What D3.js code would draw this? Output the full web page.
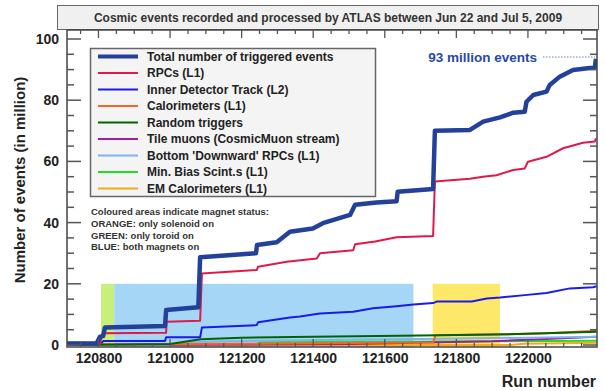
<!DOCTYPE html>
<html><head><meta charset="utf-8">
<script src="https://cdn.jsdelivr.net/npm/d3@7"></script>
<style>body{margin:0;background:#fff}svg{display:block;font-family:"Liberation Sans",Arial,sans-serif}</style>
</head><body><svg id="c" width="605" height="391"></svg>
<script>
// ---- data (run number, million events) ----
const seriesNames = ["Total number of triggered events","RPCs (L1)","Inner Detector Track (L2)","Calorimeters (L1)","Random triggers","Tile muons (CosmicMuon stream)","Bottom 'Downward' RPCs (L1)","Min. Bias Scint.s (L1)","EM Calorimeters (L1)"];
const seriesColors = ["#23419a","#e0194a","#1a1aeb","#f26522","#006400","#9b1fa0","#7fb2f0","#22dd22","#f7a81b"];
const total = [[120712,0.5],[120795,0.6],[120804,2.7],[120813,2.9],[120818,5.7],[120986,6.2],[120989,11.4],[121079,12.3],[121084,28.7],[121240,30.0],[121243,32.7],[121298,33.6],[121335,37.0],[121399,38.1],[121427,39.8],[121503,42.5],[121517,45.8],[121577,46.6],[121633,47.0],[121636,50.1],[121735,51.0],[121740,70.0],[121838,70.3],[121875,73.0],[121922,74.4],[121959,75.9],[121991,76.2],[121996,79.5],[122015,81.7],[122052,82.8],[122061,85.0],[122089,87.7],[122126,89.9],[122173,90.5],[122187,90.6],[122190,93.5]];
const rpc = [[120712,0.2],[120804,0.3],[120809,2.9],[120813,3.8],[120989,4.0],[120990,7.6],[121084,7.9],[121089,23.4],[121242,24.5],[121246,25.6],[121326,27.2],[121410,28.3],[121419,30.0],[121512,31.0],[121517,32.9],[121573,33.8],[121633,35.2],[121735,35.6],[121740,53.4],[121838,54.3],[121874,55.0],[121912,55.5],[121959,57.2],[121991,57.7],[122000,59.9],[122052,61.5],[122098,64.3],[122154,66.1],[122187,66.5],[122190,67.5]];
const innerDet = [[120712,0.7],[120810,0.8],[120813,1.3],[120986,1.3],[120989,2.5],[121084,2.5],[121089,5.7],[121242,6.5],[121246,7.4],[121335,9.0],[121363,9.3],[121419,10.3],[121512,10.9],[121567,12.0],[121633,12.7],[121680,13.2],[121735,13.7],[121745,14.2],[121843,14.2],[121885,15.2],[121922,15.5],[121991,16.3],[122052,17.0],[122117,18.5],[122182,18.9],[122192,19.2]];
const calo = [[120712,0.2],[121200,0.4],[121600,0.7],[121735,0.8],[121742,3.2],[121900,3.4],[122050,3.8],[122150,4.4],[122192,4.6]];
const randomTrig = [[120712,0.0],[121000,0.3],[121085,1.9],[121200,2.4],[121400,2.7],[121700,3.1],[121900,3.4],[122100,4.0],[122192,4.3]];
const tileMuons = [[120712,0.0],[121500,0.3],[121900,1.2],[122050,2.0],[122192,2.7]];
const bottomRpc = [[120712,0.0],[121000,0.2],[121050,1.0],[121300,1.5],[121700,2.0],[122000,2.4],[122192,2.7]];
const minBias = [[120712,0.0],[121240,0.1],[121250,0.9],[121600,1.1],[121900,1.2],[122192,1.4]];
const emCalo = [[120712,0.0],[121950,0.0],[121990,0.4],[122192,0.7]];
const seriesData = [total,rpc,innerDet,calo,randomTrig,tileMuons,bottomRpc,minBias,emCalo];
const drawOrder = [7,8,5,6,3,4,2,1,0];
// magnet status bands [startRun, endRun, top]
const bandStarts = [120807,120844,121734];
const bandEnds = [120844,121680,121922];
const bandColors = ["#c8ef7c","#a5d6f6","#fde86a"];
const bandTop = 20;
const yTickValues = [0,20,40,60,80,100];
const xTickValues = [120800,121000,121200,121400,121600,121800,122000];
const titleText = "Cosmic events recorded and processed by ATLAS between Jun 22 and Jul 5, 2009";
const noteLines = ["Coloured areas indicate magnet status:","ORANGE: only solenoid on","GREEN: only toroid on","BLUE: both magnets on"];

// ---- layout ----
const svg = d3.select("#c");
const L=67, R=597, T=30, B=347;
const x = d3.scaleLinear().domain([120712,122193]).range([L,R]);
const y = d3.scaleLinear().domain([0,100]).range([345,39]);

// title box
svg.append("rect").attr("x",57.5).attr("y",5.5).attr("width",541).attr("height",24)
  .attr("fill","#f0f0f0").attr("stroke","#666").attr("stroke-width",1);
svg.append("text").attr("x",328).attr("y",21.5).attr("text-anchor","middle")
  .attr("font-size",12).attr("font-weight","bold").attr("fill","#333").text(titleText);

const g = svg.append("g");
g.append("clipPath").attr("id","clip").append("rect").attr("x",L).attr("y",T).attr("width",R-L).attr("height",B-T);
const plot = g.append("g").attr("clip-path","url(#clip)");

// bands
bandStarts.forEach((s,i)=>{
  plot.append("rect").attr("x",x(s)).attr("width",x(bandEnds[i])-x(s))
    .attr("y",y(bandTop)).attr("height",y(0)-y(bandTop)+3).attr("fill",bandColors[i]);
});

// lines
const line = d3.line().x(d=>x(d[0])).y(d=>y(d[1]));
drawOrder.forEach(i=>{
  plot.append("path").attr("d",line(seriesData[i])).attr("fill","none")
    .attr("stroke",seriesColors[i]).attr("stroke-width", i===0?4.5:2).attr("stroke-linejoin","round");
});

// frame
g.append("rect").attr("x",L).attr("y",T).attr("width",R-L).attr("height",B-T)
  .attr("fill","none").attr("stroke","#444").attr("stroke-width",1.5);

// ticks
const tickCol="#555";
d3.range(120750,122193,50).forEach(v=>{
  const major = v%200===0;
  const h = major?8:4;
  g.append("line").attr("x1",x(v)).attr("x2",x(v)).attr("y1",B).attr("y2",B-h).attr("stroke",tickCol).attr("stroke-width",1.3);
  g.append("line").attr("x1",x(v)).attr("x2",x(v)).attr("y1",T).attr("y2",T+h).attr("stroke",tickCol).attr("stroke-width",1.3);
});
d3.range(0,101,5).forEach(v=>{
  const major = v%20===0;
  const w = major?14:7;
  g.append("line").attr("x1",L).attr("x2",L+w).attr("y1",y(v)).attr("y2",y(v)).attr("stroke",tickCol).attr("stroke-width",1.5);
  g.append("line").attr("x1",R).attr("x2",R-w).attr("y1",y(v)).attr("y2",y(v)).attr("stroke",tickCol).attr("stroke-width",1.5);
});

// axis labels via d3 axes (text only)
const xa = g.append("g").attr("transform",`translate(0,${B})`)
  .call(d3.axisBottom(x).tickValues(xTickValues).tickSize(0).tickPadding(6).tickFormat(d3.format("d")));
xa.select(".domain").remove();
xa.selectAll("text").attr("font-size",14).attr("font-weight","bold").attr("fill","#222").attr("font-family","Liberation Sans, Arial, sans-serif");
const ya = g.append("g").attr("transform",`translate(${L},0)`)
  .call(d3.axisLeft(y).tickValues(yTickValues).tickSize(0).tickPadding(8).tickFormat(d3.format("d")));
ya.select(".domain").remove();
ya.selectAll("text").attr("font-size",14).attr("font-weight","bold").attr("fill","#222").attr("font-family","Liberation Sans, Arial, sans-serif");

svg.append("text").attr("transform","translate(25,180) rotate(-90)").attr("text-anchor","middle")
  .attr("font-size",15).attr("font-weight","bold").attr("fill","#222").text("Number of events (in million)");
svg.append("text").attr("x",596).attr("y",387).attr("text-anchor","end")
  .attr("font-size",16).attr("font-weight","bold").attr("fill","#222").text("Run number");

// 93 million annotation
svg.append("text").attr("x",537).attr("y",62).attr("text-anchor","end")
  .attr("font-size",13.5).attr("font-weight","bold").attr("fill","#2a48a8").text("93 million events");
svg.append("line").attr("x1",543).attr("x2",595).attr("y1",57).attr("y2",57)
  .attr("stroke","#6a80c0").attr("stroke-width",1).attr("stroke-dasharray","1.5,1.5");

// legend
const lg = svg.append("g");
lg.append("rect").attr("x",90.5).attr("y",48.5).attr("width",285).attr("height",148)
  .attr("fill","#f4f4f4").attr("stroke","#666").attr("stroke-width",1.5);
seriesNames.forEach((n,i)=>{
  const yy = 56.5 + i*16.5;
  lg.append("line").attr("x1",98).attr("x2",138).attr("y1",yy).attr("y2",yy)
    .attr("stroke",seriesColors[i]).attr("stroke-width",i===0?4:2);
  lg.append("text").attr("x",147).attr("y",yy+4.3).attr("font-size",12).attr("font-weight","bold")
    .attr("fill","#222").text(n);
});

// note
noteLines.forEach((t,i)=>{
  svg.append("text").attr("x",91).attr("y",215+i*11.8).attr("font-size",9.5).attr("font-weight","bold")
    .attr("fill","#333").text(t);
});
</script></body></html>
